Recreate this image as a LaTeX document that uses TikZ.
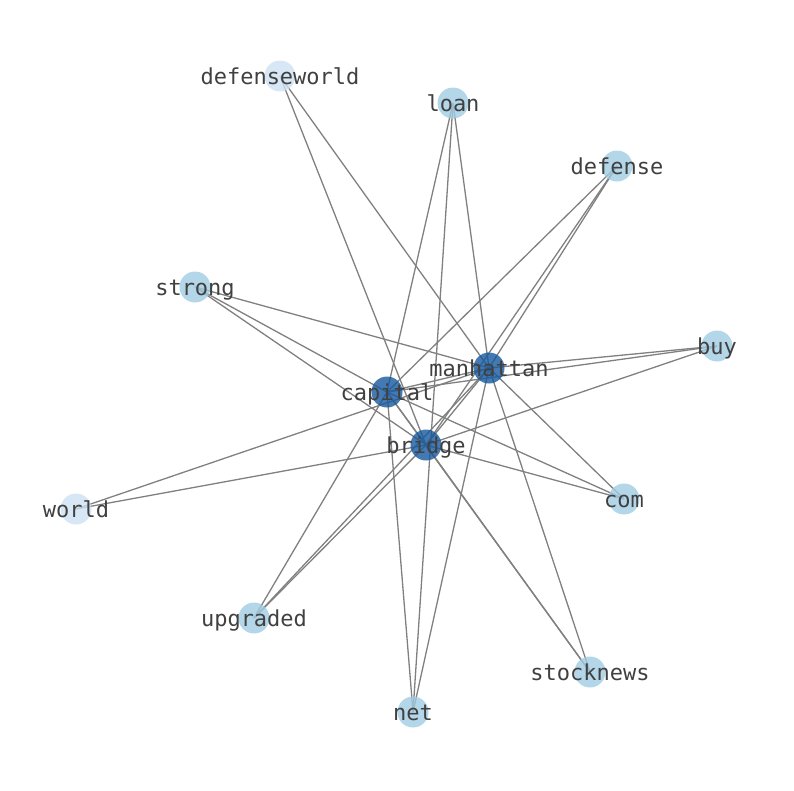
\documentclass[tikz,border=0pt]{standalone}
\usepackage{fontspec}
\setmonofont{DejaVu Sans Mono}
\usepackage{tikz}
\usetikzlibrary{backgrounds}

\definecolor{hubblue}{RGB}{21,88,159}
\definecolor{midblue}{RGB}{160,204,226}
\definecolor{lowblue}{RGB}{206,225,242}
\definecolor{wordgray}{RGB}{64,64,64}
\definecolor{linkgray}{RGB}{128,128,128}

\newcommand\wordfont{\ttfamily\fontsize{22}{26}\selectfont}

\tikzset{
	word/.style={circle, minimum size=31pt, inner sep=0pt, fill opacity=0.8,
		label={[text=wordgray, font=\wordfont, text opacity=1, inner sep=0pt,
			text height=16pt, text depth=0pt]center:#1}},
	hubword/.style={word=#1, fill=hubblue},
	midword/.style={word=#1, fill=midblue},
	lowword/.style={word=#1, fill=lowblue},
	link/.style={draw=linkgray, line width=1.3pt}
}

\begin{document}
\begin{tikzpicture}[x=1pt,y=-1pt]
	\useasboundingbox (0,0) rectangle (794,790);

	% hubs
	\node[hubword=manhattan] (manhattan) at (489,368) {};
	\node[hubword=capital] (capital) at (387,392) {};
	\node[hubword=bridge] (bridge) at (426,445) {};

	% outer words
	\node[lowword=defenseworld] (defenseworld) at (280,76) {};
	\node[midword=loan] (loan) at (453,103) {};
	\node[midword=defense] (defense) at (617,166) {};
	\node[midword=strong] (strong) at (195,287) {};
	\node[midword=buy] (buy) at (717,346) {};
	\node[lowword=world] (world) at (76,509) {};
	\node[midword=com] (com) at (624,499) {};
	\node[midword=upgraded] (upgraded) at (254,618) {};
	\node[midword=stocknews] (stocknews) at (590,672) {};
	\node[midword=net] (net) at (413,712) {};

	\begin{scope}[on background layer]
	\draw[link] (capital.center) -- (bridge.center);
	\draw[link] (capital.center) -- (manhattan.center);
	\draw[link] (bridge.center) -- (manhattan.center);

	\draw[link] (defenseworld.center) -- (bridge.center);
	\draw[link] (defenseworld.center) -- (manhattan.center);
	\draw[link] (loan.center) -- (capital.center);
	\draw[link] (loan.center) -- (manhattan.center);
	\draw[link] (loan.center) -- (net.center);
	\draw[link] (defense.center) -- (capital.center);
	\draw[link] (defense.center) -- (bridge.center);
	\draw[link] (defense.center) -- (manhattan.center);
	\draw[link] (strong.center) -- (capital.center);
	\draw[link] (strong.center) -- (bridge.center);
	\draw[link] (strong.center) -- (manhattan.center);
	\draw[link] (buy.center) -- (capital.center);
	\draw[link] (buy.center) -- (bridge.center);
	\draw[link] (buy.center) -- (manhattan.center);
	\draw[link] (world.center) -- (bridge.center);
	\draw[link] (world.center) -- (manhattan.center);
	\draw[link] (com.center) -- (capital.center);
	\draw[link] (com.center) -- (bridge.center);
	\draw[link] (com.center) -- (manhattan.center);
	\draw[link] (upgraded.center) -- (capital.center);
	\draw[link] (upgraded.center) -- (bridge.center);
	\draw[link] (upgraded.center) -- (manhattan.center);
	\draw[link] (stocknews.center) -- (capital.center);
	\draw[link] (stocknews.center) -- (bridge.center);
	\draw[link] (stocknews.center) -- (manhattan.center);
	\draw[link] (net.center) -- (capital.center);
	\draw[link] (net.center) -- (manhattan.center);
	\end{scope}
\end{tikzpicture}
\end{document}
